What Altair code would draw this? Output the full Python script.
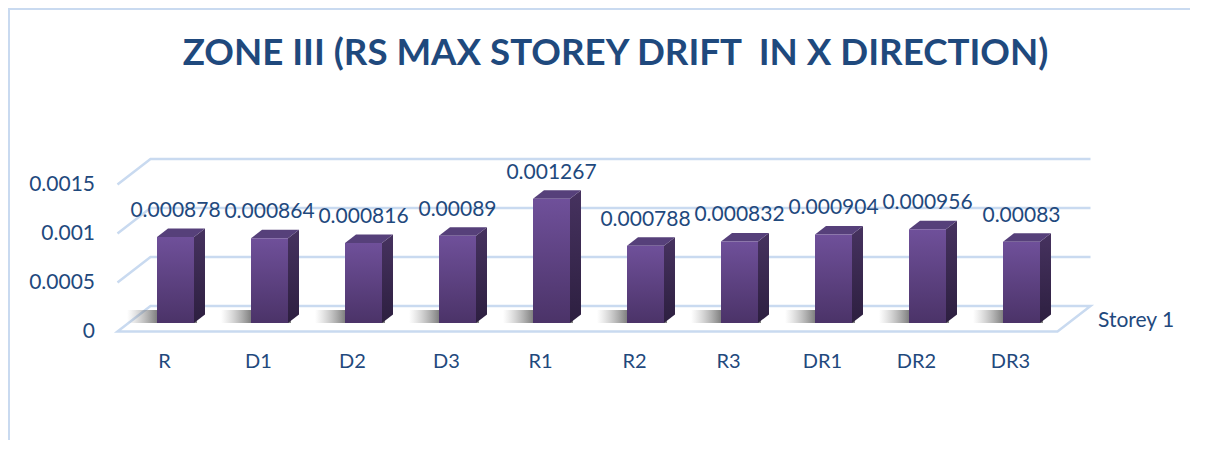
import altair as alt
import pandas as pd

# ---------------- data ----------------
categories = ["R", "D1", "D2", "D3", "R1", "R2", "R3", "DR1", "DR2", "DR3"]
drift = [0.000878, 0.000864, 0.000816, 0.00089, 0.001267,
         0.000788, 0.000832, 0.000904, 0.000956, 0.00083]
tick_values = [0, 0.0005, 0.001, 0.0015]
tick_labels = ["0", "0.0005", "0.001", "0.0015"]
series_name = ["Storey 1"]
title_text = ["ZONE III (RS MAX STOREY DRIFT \u00a0IN X DIRECTION)"]

# ---------------- layout ----------------
FONT = "Lato"
TXT = "#1F497D"
GRID = "#C9DAF0"
W, H = 1000, 210
PAD = {"left": 102, "top": 132, "right": 80, "bottom": 90}
PX_PER_CAT = 94.0          # pixels per category
PX_PER_UNIT = 98000.0      # pixels per unit of drift
BAR0_X = 65.5              # pixel x (plot coords) of first bar centre
BASE_Y = 183.0             # pixel y (plot coords) of bar base
BAR_HALF = 18.5            # px
DEPTH_X, DEPTH_Y = 33.0, 25.5  # full floor depth shift in px


def ux(px):
    return px / PX_PER_CAT


def uy(px):
    return px / PX_PER_UNIT


def sx(d):
    return ux(DEPTH_X * (d - 1.0 / 3.0))


def sy(d):
    return uy(DEPTH_Y * (d - 1.0 / 3.0))


xs = alt.Scale(domain=[-BAR0_X / PX_PER_CAT, (W - BAR0_X) / PX_PER_CAT], nice=False, zero=False)
ys = alt.Scale(domain=[(BASE_Y - H) / PX_PER_UNIT, BASE_Y / PX_PER_UNIT], nice=False, zero=False)

n = len(categories)
hw = ux(BAR_HALF)
bx, by = sx(2.0 / 3.0), sy(2.0 / 3.0)   # bar depth

bars = pd.DataFrame({
    "i": list(range(n)),
    "cat": categories,
    "v": drift,
    "label": [str(v) for v in drift],
})
bars["x0"] = bars["i"] - hw
bars["x1"] = bars["i"] + hw
bars["zero"] = 0.0
bars["sh0"] = bars["i"] - hw - ux(30)
bars["sh1"] = bars["i"] - hw + ux(40)
bars["shy"] = uy(13)
bars["catx"] = bars["i"] + sx(0)

ticks = pd.DataFrame({"t": tick_values, "lab": tick_labels})
ticks["ty"] = ticks["t"] + sy(0)

# side faces
side_rows = []
for i, v in enumerate(drift):
    side_rows.append({"b": i, "x": i + hw, "y": 0.0, "y2": v})
    side_rows.append({"b": i, "x": i + hw + bx, "y": by, "y2": v + by})
side = pd.DataFrame(side_rows)

# top faces
top_rows = []
for i, v in enumerate(drift):
    top_rows.append({"b": i, "x": i - hw, "y": v, "y2": v})
    top_rows.append({"b": i, "x": i - hw + bx, "y": v, "y2": v + by})
    top_rows.append({"b": i, "x": i + hw, "y": v, "y2": v + by})
    top_rows.append({"b": i, "x": i + hw + bx, "y": v + by, "y2": v + by})
top = pd.DataFrame(top_rows)

# floor
f, b = sy(0), sy(1)
floor = pd.DataFrame({
    "x": [-0.5 + sx(0), -0.5 + sx(1), n - 0.5 + sx(0), n - 0.5 + sx(1)],
    "y": [f, f, f, b],
    "y2": [f, b, b, b],
})

# gridlines (side wall + back wall)
grid_rows = []
for t in tick_values[1:]:
    grid_rows.append({"k": t, "o": 0, "x": -0.5 + sx(0), "y": t + sy(0)})
    grid_rows.append({"k": t, "o": 1, "x": -0.5 + sx(1), "y": t + sy(1)})
    grid_rows.append({"k": t, "o": 2, "x": n - 0.5 + sx(1), "y": t + sy(1)})
grid = pd.DataFrame(grid_rows)

NOAX = None

floor_layer = alt.Chart(floor).mark_area(
    orient="vertical", fill="white", stroke=GRID, strokeWidth=2.5
).encode(
    x=alt.X("x:Q", scale=xs, axis=NOAX),
    y=alt.Y("y:Q", scale=ys, axis=NOAX),
    y2="y2:Q",
)

grid_layer = alt.Chart(grid).mark_line(color=GRID, strokeWidth=2.5).encode(
    x=alt.X("x:Q", scale=xs, axis=NOAX),
    y=alt.Y("y:Q", scale=ys, axis=NOAX),
    detail="k:N",
    order="o:Q",
)

shadow_layer = alt.Chart(bars).mark_rect(
    color={"gradient": "linear", "x1": 0, "x2": 1, "y1": 0, "y2": 0,
           "stops": [{"offset": 0, "color": "rgba(140,140,140,0)"},
                     {"offset": 0.43, "color": "rgba(85,85,85,0.75)"},
                     {"offset": 1, "color": "rgba(85,85,85,0.75)"}]}
).encode(
    x=alt.X("sh0:Q", scale=xs, axis=NOAX),
    x2="sh1:Q",
    y=alt.Y("zero:Q", scale=ys, axis=NOAX),
    y2="shy:Q",
)

side_layer = alt.Chart(side).mark_area(
    orient="vertical",
    color={"gradient": "linear", "x1": 0, "x2": 0, "y1": 0, "y2": 1,
           "stops": [{"offset": 0, "color": "#46325F"},
                     {"offset": 1, "color": "#2D1F40"}]}
).encode(
    x=alt.X("x:Q", scale=xs, axis=NOAX),
    y=alt.Y("y:Q", scale=ys, axis=NOAX),
    y2="y2:Q",
    detail="b:N",
)

top_layer = alt.Chart(top).mark_area(orient="vertical", color="#56407A").encode(
    x=alt.X("x:Q", scale=xs, axis=NOAX),
    y=alt.Y("y:Q", scale=ys, axis=NOAX),
    y2="y2:Q",
    detail="b:N",
)

front_layer = alt.Chart(bars).mark_rect(
    color={"gradient": "linear", "x1": 0, "x2": 0, "y1": 0, "y2": 1,
           "stops": [{"offset": 0, "color": "#6F509A"},
                     {"offset": 1, "color": "#4B3368"}]}
).encode(
    x=alt.X("x0:Q", scale=xs, axis=NOAX),
    x2="x1:Q",
    y=alt.Y("zero:Q", scale=ys, axis=NOAX),
    y2="v:Q",
)

value_labels = alt.Chart(bars).mark_text(
    font=FONT, fontSize=21, color=TXT, baseline="middle", align="center", dy=-26
).encode(
    x=alt.X("i:Q", scale=xs, axis=NOAX),
    y=alt.Y("v:Q", scale=ys, axis=NOAX),
    text="label:N",
)

# category (x axis) labels
cat_labels = alt.Chart(bars).mark_text(
    font=FONT, fontSize=20, color=TXT, baseline="middle", align="center"
).encode(
    x=alt.X("catx:Q", scale=xs, axis=NOAX),
    y=alt.value(H + 12),
    text="cat:N",
)

# value (y axis) labels
y_labels = alt.Chart(ticks).mark_text(
    font=FONT, fontSize=21, color=TXT, baseline="middle", align="right"
).encode(
    x=alt.value(-15),
    y=alt.Y("ty:Q", scale=ys, axis=NOAX),
    text="lab:N",
)

legend_text = alt.Chart(pd.DataFrame({"s": series_name})).mark_text(
    font=FONT, fontSize=21, color=TXT, align="left", baseline="middle"
).encode(x=alt.value(988), y=alt.value(181), text="s:N")

title_mark = alt.Chart(pd.DataFrame({"t": title_text})).mark_text(
    font=FONT, fontSize=36.7, fontWeight="bold", color=TXT, align="center", baseline="middle"
).encode(x=alt.value(505.5), y=alt.value(-86), text="t:N")

frame_top = alt.Chart(pd.DataFrame({"a": [0]})).mark_rule(color=GRID, strokeWidth=2).encode(
    x=alt.value(-PAD["left"]), x2=alt.value(W + PAD["right"]), y=alt.value(-PAD["top"] + 1))
frame_left = alt.Chart(pd.DataFrame({"a": [0]})).mark_rule(color=GRID, strokeWidth=2).encode(
    x=alt.value(-PAD["left"] + 1), y=alt.value(-PAD["top"]), y2=alt.value(H + PAD["bottom"]))

chart = alt.layer(
    floor_layer, grid_layer, shadow_layer, side_layer, top_layer, front_layer,
    value_labels, cat_labels, y_labels, legend_text, title_mark, frame_top, frame_left,
).properties(
    width=W, height=H,
    autosize=alt.AutoSizeParams(type="none"),
    padding=PAD,
).configure_view(stroke=None)

chart.save("out.html", embed_options={"renderer": "svg", "actions": False})
